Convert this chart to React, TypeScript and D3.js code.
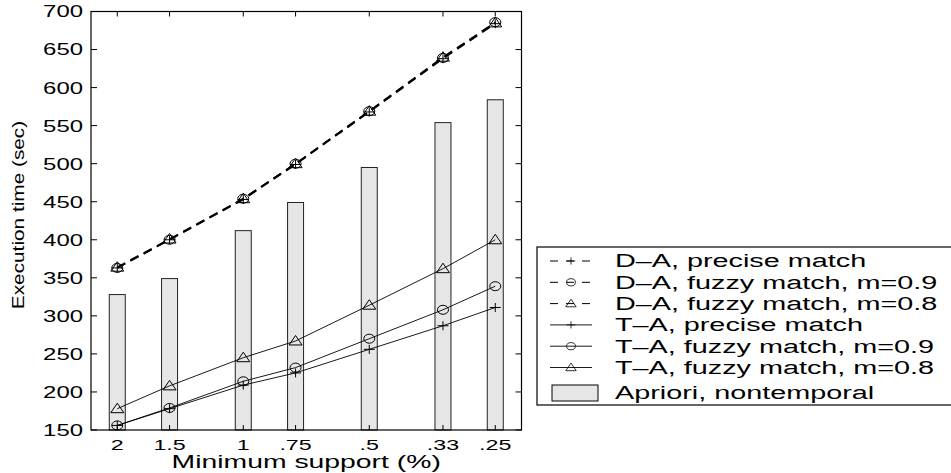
import React from "react";
import * as d3 from "d3";

const supportLabels = ["2", "1.5", "1", ".75", ".5", ".33", ".25"];
const supportValues = [2, 1.5, 1, 0.75, 0.5, 1 / 3, 0.25];
const aprioriTimes = [328, 349, 412, 449, 495, 554, 584];
const daPrecise = [363, 400, 453, 499, 568, 638, 684];
const daFuzzy09 = [363, 400, 454, 500, 569, 639, 686];
const daFuzzy08 = [364, 401, 454, 500, 569, 640, 685];
const taPrecise = [156, 178, 209, 225, 256, 287, 311];
const taFuzzy09 = [156, 179, 214, 232, 270, 308, 339];
const taFuzzy08 = [178, 208, 245, 267, 314, 362, 400];
const yTicks = [150, 200, 250, 300, 350, 400, 450, 500, 550, 600, 650, 700];
const legendLabels = [
  "D\u2013A, precise match",
  "D\u2013A, fuzzy match, m=0.9",
  "D\u2013A, fuzzy match, m=0.8",
  "T\u2013A, precise match",
  "T\u2013A, fuzzy match, m=0.9",
  "T\u2013A, fuzzy match, m=0.8",
  "Apriori, nontemporal",
];

type Mk = "plus" | "circle" | "tri";
const seriesList: { vals: number[]; dashed: boolean; marker: Mk }[] = [
  { vals: daPrecise, dashed: true, marker: "plus" },
  { vals: daFuzzy09, dashed: true, marker: "circle" },
  { vals: daFuzzy08, dashed: true, marker: "tri" },
  { vals: taPrecise, dashed: false, marker: "plus" },
  { vals: taFuzzy09, dashed: false, marker: "circle" },
  { vals: taFuzzy08, dashed: false, marker: "tri" },
];

const L = 91, R = 521.5, T = 11.5, B = 430;
const FONT = "'Liberation Sans', Arial, Helvetica, sans-serif";

function Marker({ type, x, y }: { type: Mk; x: number; y: number }) {
  const s = { fill: "none", stroke: "#000", strokeWidth: 1 };
  if (type === "plus")
    return (
      <g {...s}>
        <line x1={x - 5.5} x2={x + 5.5} y1={y} y2={y} />
        <line x1={x} x2={x} y1={y - 4.5} y2={y + 4.5} />
      </g>
    );
  if (type === "circle") return <ellipse cx={x} cy={y} rx={5.5} ry={4.5} {...s} />;
  return <path d={`M${x},${y - 5.5}L${x + 6.5},${y + 4}L${x - 6.5},${y + 4}Z`} {...s} />;
}

export default function App() {
  const x = d3.scaleLog().domain([2.311, 0.2164]).range([L, R]);
  const y = d3.scaleLinear().domain([150, 700]).range([B, T]);
  const line = d3
    .line<number>()
    .x((_, i) => x(supportValues[i]))
    .y((v) => y(v));
  const barW = 16;
  const legTop = 247;
  const rowH = 21.3;
  const rowY0 = 261;

  return (
    <svg
      width={951}
      height={473}
      style={{ position: "absolute", left: 0, top: 0, background: "#fff" }}
    >
      <rect x={0} y={0} width={951} height={473} fill="#fff" />
      {aprioriTimes.map((v, i) => (
        <rect
          key={"b" + i}
          x={x(supportValues[i]) - barW / 2}
          y={y(v)}
          width={barW}
          height={B - y(v)}
          fill="#e6e6e6"
          stroke="#222"
          strokeWidth={1}
        />
      ))}
      {seriesList.map((s, k) => (
        <g key={"s" + k}>
          <path
            d={line(s.vals) || ""}
            fill="none"
            stroke="#000"
            strokeWidth={s.dashed ? 1.6 : 0.9}
            strokeDasharray={s.dashed ? "9,6" : undefined}
          />
          {s.vals.map((v, i) => (
            <Marker key={i} type={s.marker} x={x(supportValues[i])} y={y(v)} />
          ))}
        </g>
      ))}
      <rect x={L} y={T} width={R - L} height={B - T} fill="none" stroke="#000" strokeWidth={1.2} />
      {yTicks.map((t) => (
        <g key={"y" + t}>
          <line x1={L} x2={L + 6} y1={y(t)} y2={y(t)} stroke="#000" />
          <line x1={R} x2={R - 6} y1={y(t)} y2={y(t)} stroke="#000" />
          <text
            transform={`translate(83,${y(t)}) scale(1.45,1)`}
            textAnchor="end"
            dy="0.36em"
            fontFamily={FONT}
            fontSize={16.5}
          >
            {t}
          </text>
        </g>
      ))}
      {supportValues.map((v, i) => (
        <g key={"x" + i}>
          <line x1={x(v)} x2={x(v)} y1={B} y2={B - 5} stroke="#000" />
          <line x1={x(v)} x2={x(v)} y1={T} y2={T + 5} stroke="#000" />
          <text
            transform={`translate(${x(v)},450) scale(1.5,1)`}
            textAnchor="middle"
            fontFamily={FONT}
            fontSize={15.5}
          >
            {supportLabels[i]}
          </text>
        </g>
      ))}
      <text
        transform={`translate(${(L + R) / 2},468) scale(1.62,1)`}
        textAnchor="middle"
        fontFamily={FONT}
        fontSize={17.5}
      >
        Minimum support (%)
      </text>
      <text
        transform={`translate(24,215) rotate(-90) scale(1.3,1)`}
        textAnchor="middle"
        fontFamily={FONT}
        fontSize={16}
      >
        Execution time (sec)
      </text>
      <rect x={537} y={legTop} width={420} height={158} fill="#fff" stroke="#000" strokeWidth={1.2} />
      {seriesList.map((s, k) => {
        const yy = rowY0 + k * rowH;
        return (
          <g key={"l" + k}>
            <line
              x1={550}
              x2={592}
              y1={yy}
              y2={yy}
              stroke="#000"
              strokeWidth={s.dashed ? 1 : 0.9}
              strokeDasharray={s.dashed ? "8,8" : undefined}
            />
            <g transform={`translate(${571},${yy}) scale(0.8)`}>
              <Marker type={s.marker} x={0} y={0} />
            </g>
          </g>
        );
      })}
      <rect x={552} y={385} width={46} height={16} fill="#e6e6e6" stroke="#000" strokeWidth={1} />
      {legendLabels.map((lab, k) => (
        <text
          key={"lt" + k}
          transform={`translate(615,${k < 6 ? rowY0 + k * rowH : 393}) scale(1.6,1)`}
          dy="0.36em"
          fontFamily={FONT}
          fontSize={18}
        >
          {lab}
        </text>
      ))}
    </svg>
  );
}
